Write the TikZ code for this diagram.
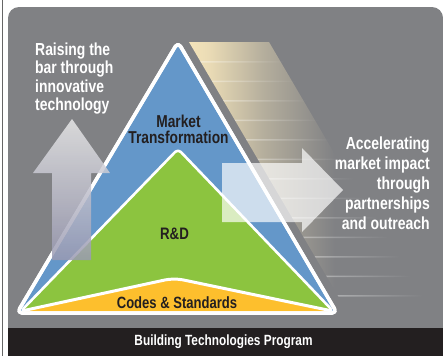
\documentclass[tikz,border=0pt]{standalone}
\usepackage{fontspec}
\usetikzlibrary{fadings}
\newfontfamily\condsans[FakeStretch=0.8]{Liberation Sans}
\definecolor{panelgray}{HTML}{808184}
\definecolor{bandblack}{HTML}{231F20}
\definecolor{btpblue}{HTML}{6497C9}
\definecolor{btpgreen}{HTML}{8CC43F}
\definecolor{btpyellow}{HTML}{FDBF2D}
\definecolor{glowcream}{HTML}{F4E4BA}
\definecolor{inktext}{HTML}{231F20}
\pgfdeclarehorizontalshading{glowshade}{100bp}{color(0bp)=(glowcream); color(25bp)=(glowcream);
  color(29bp)=(glowcream!92!panelgray); color(41bp)=(glowcream!45!panelgray);
  color(56bp)=(panelgray); color(100bp)=(panelgray)}
\tikzset{
  btplabel/.style={font=\condsans\bfseries\fontsize{17.4}{18.5}\selectfont, inner sep=0pt, text=white},
  tierlabel/.style={font=\condsans\bfseries\fontsize{16.6}{16}\selectfont, inner sep=0pt, text=inktext},
  tieredge/.style={draw=white, line width=3pt, line join=round},
}
\begin{document}
\begin{tikzpicture}[x=1pt,y=-1pt]
% pyramid of program tiers with two arrows, y runs down as in the image
\useasboundingbox (0,0) rectangle (443,360);
\fill[white] (0,0) rectangle (443,360);
\draw[gray!80!black, line width=1.2pt] (2.5,0) -- (2.5,356);
\fill[panelgray, rounded corners=11pt] (8,7) rectangle (443,340);
\fill[bandblack] (8,327.5) rectangle (443,356);
% glow to the right of the pyramid
\begin{scope}[shift={(189,42)}, xslant=-0.587]
  \shade[shading=glowshade] (0,0) rectangle (80,264);
  \foreach \yy in {19,38.5,...,253}
    \fill[white, opacity=0.35, path fading=east] (0,\yy) rectangle (85,\yy+1.6);
\end{scope}
% tiers
\draw[tieredge, fill=btpblue, line width=3.5pt, rounded corners=5pt]
  (178,42) -- (337,313) -- (17,313) -- cycle;
\draw[tieredge, fill=btpgreen, line width=2.6pt, rounded corners=4pt]
  (178,149) -- (333,311) -- (21,311) -- cycle;
\fill[btpyellow, rounded corners=2pt] (24,311) -- (174,278) -- (330,311) -- cycle;
\draw[tieredge, rounded corners=9pt] (24,310.5) -- (174,278) -- (330,310.5);
\draw[tieredge, line width=3.5pt, rounded corners=5pt]
  (178,42) -- (337,313) -- (17,313) -- cycle;
% arrows
\shade[top color=gray!18, bottom color=gray!45!blue!25!gray!70, fill opacity=0.85]
  (72,119) -- (110,173) -- (91,173) -- (91,260) -- (52,260) -- (52,173) -- (33,173) -- cycle;
\fill[white, fill opacity=0.68]
  (222,163) -- (302,163) -- (302,148) -- (343,190) -- (302,232) -- (302,222) -- (222,222) -- cycle;
% labels
\node[btplabel, align=left, anchor=north west] (raising) at (35,42.5)
  {Raising the\\bar through\\innovative\\technology};
\node[btplabel, align=right, anchor=north east, font=\condsans\bfseries\fontsize{17.5}{20.2}\selectfont]
  (accel) at (430,136.2) {Accelerating\\market impact\\through\\partnerships\\and outreach};
\node[tierlabel, align=center, anchor=north, font=\condsans\bfseries\fontsize{17.2}{16}\selectfont]
  (market) at (178.5,114.5) {Market\\Transformation};
\node[tierlabel, anchor=base] (rnd) at (174.5,239) {R\&D};
\node[tierlabel, anchor=base, font=\condsans\bfseries\fontsize{16.3}{16}\selectfont]
  (codes) at (177,308) {Codes \& Standards};
\node[btplabel, anchor=base, font=\condsans\bfseries\fontsize{14.8}{16}\selectfont]
  (program) at (223.5,345) {Building Technologies Program};
\end{tikzpicture}
\end{document}
